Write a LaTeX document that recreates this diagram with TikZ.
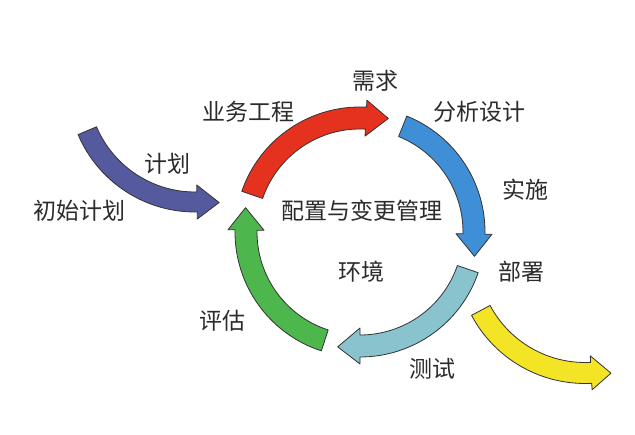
\documentclass[tikz,border=0pt]{standalone}
\usepackage{fontspec}
\newfontfamily\cjk{Noto Sans CJK SC}
\definecolor{cIndigo}{HTML}{555A9E}
\definecolor{cRed}{HTML}{E5321F}
\definecolor{cBlue}{HTML}{3F8FD6}
\definecolor{cLight}{HTML}{88C3CE}
\definecolor{cGreen}{HTML}{4DB64C}
\definecolor{cYellow}{HTML}{F4E426}
\definecolor{cText}{HTML}{2B2B2B}
% #1 center, #2 start angle, #3 head base angle, #4 tip angle, #5 mid radius,
% #6 band half width, #7 head half width, #8 fill colour
\newcommand{\arcarrow}[8]{%
  \filldraw[arrowshape, fill=#8, shift={#1}]
    (#2:#5+#6) arc[start angle=#2, end angle=#3, radius=#5+#6]
    -- (#3:#5+#7) -- (#4:#5+3) -- (#3:#5-#7) -- (#3:#5-#6)
    arc[start angle=#3, end angle=#2, radius=#5-#6] -- cycle;}
\begin{document}
\begin{tikzpicture}[x=1pt, y=1pt,
  arrowshape/.style={draw=black!80, line width=0.8pt, line join=round},
  lbl/.style={font=\cjk\fontsize{23}{23}\selectfont, text=cText, inner sep=0pt}]
\useasboundingbox[fill=white] (0,0) rectangle (635,435);
% main cycle, center (360,203)
\coordinate (c) at (360,203);
\arcarrow{(c)}{161}{87}{76}{114}{11}{18}{cRed}
\arcarrow{(c)}{68}{-1}{-12}{114}{11}{18}{cBlue}
\arcarrow{(c)}{-19}{-90}{-101}{114}{11}{18}{cLight}
\arcarrow{(c)}{-108}{-181}{-192}{114}{11}{18}{cGreen}
% plan arrow
\coordinate (pc) at (195,350);
\arcarrow{(pc)}{-157}{-89}{-78.4}{117}{10}{17}{cIndigo}
% deploy arrow
\coordinate (yc) at (585,180);
\arcarrow{(yc)}{-152}{-87}{-77.6}{118}{10.5}{17}{cYellow}
% labels
\node[lbl] (ywgc) at (248,323) {业务工程};
\node[lbl] (xq) at (375,354) {需求};
\node[lbl] (fxsj) at (479,323) {分析设计};
\node[lbl] (ss) at (525,245) {实施};
\node[lbl] (pz) at (362,224) {配置与变更管理};
\node[lbl] (jh) at (167,271) {计划};
\node[lbl] (csjh) at (80,224) {初始计划};
\node[lbl] (hj) at (361,163) {环境};
\node[lbl] (pg) at (222,114) {评估};
\node[lbl] (cs) at (432,66) {测试};
\node[lbl] (bs) at (521,163) {部署};
\end{tikzpicture}
\end{document}
